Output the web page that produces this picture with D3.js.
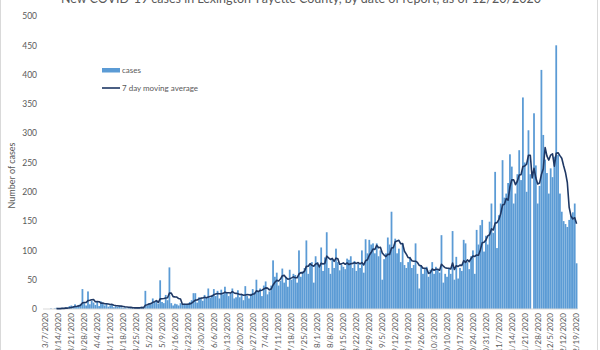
<!DOCTYPE html>
<html>
<head>
<meta charset="utf-8">
<script src="https://cdn.jsdelivr.net/npm/d3@7"></script>
<style>
  html, body { margin: 0; padding: 0; background: #fff; }
  svg { display: block; font-family: Lato, "Open Sans", sans-serif; }
</style>
</head>
<body>
<svg id="chart" width="600" height="350"></svg>
<script>
// Daily reported cases, 3/7/2020 through 12/19/2020, one row per week
const startDate = "2020-03-07";
const cases = [
  0, 0, 0, 1, 0, 1, 2,
  1, 0, 2, 1, 3, 2, 5,
  6, 5, 8, 4, 7, 9, 34,
  10, 6, 30, 8, 14, 11, 7,
  12, 5, 13, 9, 6, 10, 4,
  6, 7, 3, 5, 4, 6, 3,
  2, 3, 1, 2, 3, 2, 1,
  1, 3, 2, 4, 3, 31, 6,
  10, 8, 18, 12, 15, 9, 49,
  12, 10, 24, 15, 71, 10, 6,
  9, 8, 6, 10, 8, 9, 7,
  9, 12, 15, 27, 27, 11, 20,
  18, 14, 24, 20, 35, 19, 24,
  34, 22, 31, 18, 33, 25, 38,
  28, 22, 26, 35, 18, 20, 32,
  20, 24, 15, 39, 22, 18, 26,
  34, 28, 50, 30, 35, 22, 40,
  47, 25, 30, 40, 83, 55, 62,
  40, 48, 69, 45, 55, 38, 67,
  50, 60, 58, 45, 100, 55, 64,
  70, 117, 60, 75, 80, 45, 90,
  80, 72, 105, 65, 88, 131, 70,
  60, 85, 70, 103, 80, 66, 75,
  72, 68, 86, 84, 90, 70, 82,
  65, 78, 70, 100, 62, 119, 95,
  118, 110, 112, 95, 112, 90, 100,
  50, 85, 95, 122, 110, 166, 105,
  120, 95, 103, 80, 112, 75, 70,
  80, 89, 70, 75, 112, 60, 35,
  75, 60, 69, 72, 55, 67, 80,
  60, 72, 68, 62, 126, 45, 60,
  55, 70, 60, 133, 50, 89, 52,
  70, 65, 118, 112, 80, 68, 90,
  100, 60, 135, 110, 143, 152, 98,
  125, 110, 149, 180, 130, 234, 104,
  160, 180, 254, 190, 197, 215, 264,
  243, 180, 197, 230, 271, 220, 361,
  250, 200, 305, 230, 0, 334, 245,
  180, 210, 408, 297, 255, 232, 197,
  240, 225, 260, 450, 263, 197, 166,
  150, 145, 140, 152, 158, 165, 180,
  78
];
const tickLabels = [
  "3/7/2020", "3/14/2020", "3/21/2020", "3/28/2020", "4/4/2020", "4/11/2020",
  "4/18/2020", "4/25/2020", "5/2/2020", "5/9/2020", "5/16/2020", "5/23/2020",
  "5/30/2020", "6/6/2020", "6/13/2020", "6/20/2020", "6/27/2020", "7/4/2020",
  "7/11/2020", "7/18/2020", "7/25/2020", "8/1/2020", "8/8/2020", "8/15/2020",
  "8/22/2020", "8/29/2020", "9/5/2020", "9/12/2020", "9/19/2020", "9/26/2020",
  "10/3/2020", "10/10/2020", "10/17/2020", "10/24/2020", "10/31/2020", "11/7/2020",
  "11/14/2020", "11/21/2020", "11/28/2020", "12/5/2020", "12/12/2020", "12/19/2020"
];
const yTicks = [0, 50, 100, 150, 200, 250, 300, 350, 400, 450, 500];
const maPeriod = 7;

const titleText = "New COVID-19 cases in Lexington-Fayette County, by date of report, as of 12/20/2020";
const seriesNames = ["cases", "7 day moving average"];

const barColor = "#5b9bd5";
const lineColor = "#1f3864";
const textColor = "#595959";

const svg = d3.select("#chart");
const W = 600, H = 350;
const plot = { left: 44.5, right: 577.5, top: 16, bottom: 309 };

// one category per day
const parse = d3.utcParse("%Y-%m-%d");
const day0 = parse(startDate);
const days = cases.map((_, i) => d3.utcDay.offset(day0, i));
const fmt = d => `${d.getUTCMonth() + 1}/${d.getUTCDate()}/${d.getUTCFullYear()}`;
const keys = days.map(fmt);

const x = d3.scaleBand().domain(keys).range([plot.left, plot.right]).paddingInner(0.04).paddingOuter(0.02);
const y = d3.scaleLinear().domain([0, 500]).range([plot.bottom, plot.top]);

// outer chart border
svg.append("rect")
  .attr("x", 0.5).attr("y", -5).attr("width", W - 3).attr("height", H + 10)
  .attr("fill", "none").attr("stroke", "#d9d9d9");

// title (top edge clipped by the frame)
svg.append("text")
  .attr("x", 301).attr("y", 3)
  .attr("text-anchor", "middle")
  .attr("font-size", 12.5)
  .attr("fill", textColor)
  .text(titleText);

// bars
svg.append("g").selectAll("rect")
  .data(cases)
  .join("rect")
  .attr("x", (d, i) => x(keys[i]))
  .attr("width", x.bandwidth())
  .attr("y", d => y(d))
  .attr("height", d => y(0) - y(d))
  .attr("fill", barColor);

// category axis
const xAxis = d3.axisBottom(x)
  .tickValues(keys.filter(k => tickLabels.includes(k)))
  .tickSize(0)
  .tickPadding(4);
const gx = svg.append("g").attr("transform", `translate(0,${plot.bottom})`).call(xAxis);
gx.select(".domain").attr("stroke", "#d9d9d9").attr("stroke-width", 1)
  .attr("d", `M${plot.left - 1.5},0H${plot.right}`);
gx.selectAll(".tick text")
  .attr("transform", "rotate(-90)")
  .attr("text-anchor", "end")
  .attr("x", -4).attr("y", 0).attr("dy", "0.35em")
  .attr("font-size", 8)
  .attr("font-family", "Lato, sans-serif")
  .attr("fill", textColor);

const yAxis = d3.axisLeft(y).tickValues(yTicks).tickSize(0).tickPadding(0);
const gy = svg.append("g").attr("transform", `translate(37,0)`).call(yAxis);
gy.select(".domain").remove();
gy.selectAll(".tick text")
  .attr("font-size", 8.5)
  .attr("font-family", "Lato, sans-serif")
  .attr("fill", textColor);

// y axis title
svg.append("text")
  .attr("transform", `translate(14.5,${(plot.top + plot.bottom) / 2 + 13}) rotate(-90)`)
  .attr("text-anchor", "middle")
  .attr("font-size", 9)
  .attr("fill", textColor)
  .text("Number of cases");

// moving-average trendline: starts at the 7th point
const ma = cases.map((_, i) => i < maPeriod - 1 ? null : d3.mean(cases.slice(i - maPeriod + 1, i + 1)));
const line = d3.line()
  .defined(d => d !== null)
  .x((d, i) => x(keys[i]) + x.bandwidth() / 2)
  .y(d => y(d));
svg.append("path")
  .datum(ma)
  .attr("d", line)
  .attr("fill", "none")
  .attr("stroke", lineColor)
  .attr("stroke-width", 1.6)
  .attr("stroke-linejoin", "round");

// legend
const lg = svg.append("g").attr("font-size", 8).attr("fill", textColor);
lg.append("rect").attr("x", 102).attr("y", 68).attr("width", 18).attr("height", 4.5).attr("fill", barColor);
lg.append("text").attr("x", 122).attr("y", 73).text(seriesNames[0]);
lg.append("line").attr("x1", 102).attr("x2", 120).attr("y1", 88).attr("y2", 88)
  .attr("stroke", lineColor).attr("stroke-width", 1.6);
lg.append("text").attr("x", 122).attr("y", 91).text(seriesNames[1]);
</script>
</body>
</html>
